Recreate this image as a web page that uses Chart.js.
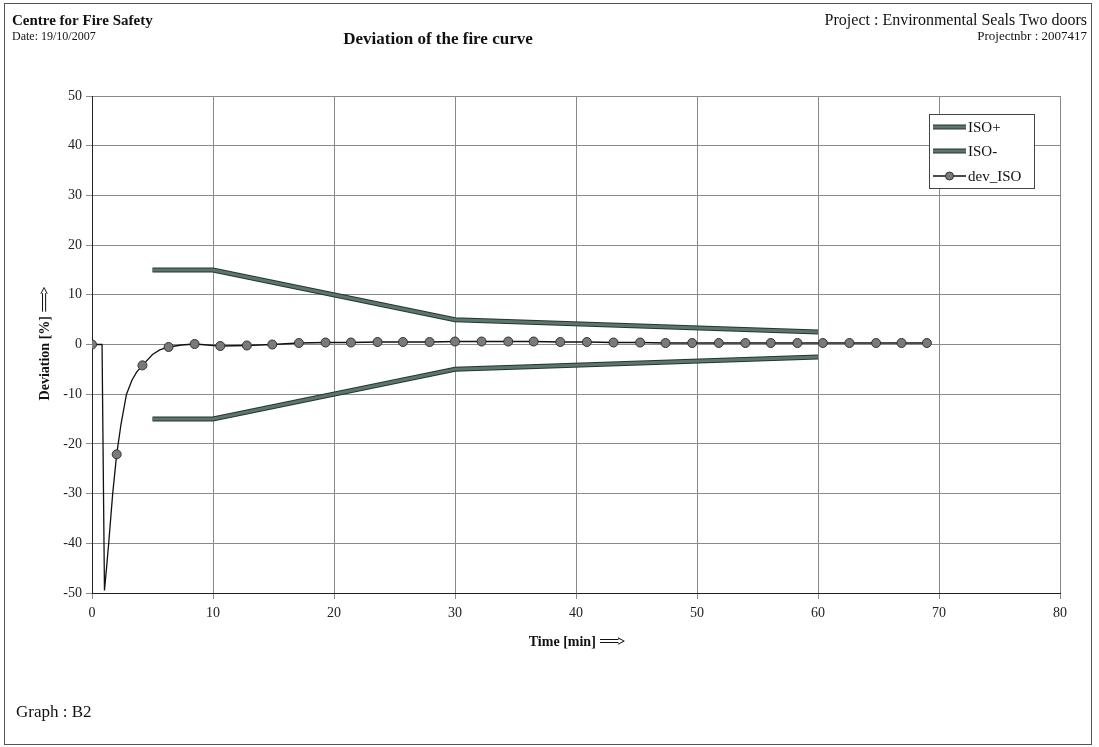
<!DOCTYPE html>
<html>
<head>
<meta charset="utf-8">
<script src="https://cdn.jsdelivr.net/npm/chart.js@4.4.1/dist/chart.umd.min.js"></script>
<style>
  html, body { margin: 0; padding: 0; background: #ffffff; }
  #wrap { width: 1099px; height: 747px; position: relative; }
</style>
</head>
<body>
<div id="wrap"><canvas id="c" width="1099" height="747"></canvas></div>
<script>
// ---- Data ----
const isoTime = [5, 10, 30, 60];
const isoPlus = [15, 15, 5, 2.5];
const isoMinus = [-15, -15, -5, -2.5];

// dev_ISO: points carrying markers
const devMarkerTime = [0, 2.04, 4.17, 6.33, 8.48, 10.6, 12.8, 14.9, 17.1, 19.3, 21.4, 23.6, 25.7, 27.9, 30.0, 32.2, 34.4, 36.5, 38.7, 40.9, 43.1, 45.3, 47.4, 49.6, 51.8, 54.0, 56.1, 58.3, 60.4, 62.6, 64.8, 66.9, 69.0];
const devMarkerValue = [0, -22.1, -4.2, -0.5, 0.1, -0.3, -0.2, 0.0, 0.3, 0.4, 0.4, 0.5, 0.5, 0.5, 0.6, 0.6, 0.6, 0.6, 0.5, 0.5, 0.4, 0.4, 0.3, 0.3, 0.3, 0.3, 0.3, 0.3, 0.3, 0.3, 0.3, 0.3, 0.3];
// dev_ISO: intermediate points of the line (no markers)
const devLineTime = [0.83, 1.03, 1.2, 1.38, 1.71, 2.4, 2.85, 3.3, 3.7, 5.0, 5.6, 7.4];
const devLineValue = [0, -49.5, -45, -40, -30, -16, -10, -7.2, -5.5, -2.0, -1.1, -0.1];

const xTicks = [0, 10, 20, 30, 40, 50, 60, 70, 80];
const yTicks = [-50, -40, -30, -20, -10, 0, 10, 20, 30, 40, 50];

const headerLeft1 = 'Centre for Fire Safety';
const headerLeft2 = 'Date: 19/10/2007';
const chartTitle = 'Deviation of the fire curve';
const headerRight1 = 'Project : Environmental Seals Two doors';
const headerRight2 = 'Projectnbr : 2007417';
const xTitle = 'Time [min]';
const yTitle = 'Deviation [%]';
const titleArrow = '===>';
const footer = 'Graph : B2';

// ---- build datasets ----
const devPoints = devMarkerTime.map((t, i) => ({ x: t, y: devMarkerValue[i], m: true }))
  .concat(devLineTime.map((t, i) => ({ x: t, y: devLineValue[i], m: false })))
  .sort((a, b) => a.x - b.x);

const SERIF = '"Liberation Serif", "Times New Roman", serif';
const isoColor = '#5a776a';
const isoEdge = '#26352e';

function drawTitleWithArrow(ctx, text, cx, cy) {
  ctx.font = 'bold 14px ' + SERIF;
  ctx.letterSpacing = '0px';
  const w1 = ctx.measureText(text + ' ').width;
  ctx.letterSpacing = '-2px';
  const w2 = ctx.measureText(titleArrow).width;
  const start = cx - (w1 + w2) / 2;
  ctx.textAlign = 'left';
  ctx.textBaseline = 'middle';
  ctx.letterSpacing = '0px';
  ctx.fillText(text + ' ', start, cy);
  ctx.letterSpacing = '-2px';
  ctx.fillText(titleArrow, start + w1, cy);
  ctx.letterSpacing = '0px';
}

const isoOutline = {
  id: 'isoOutline',
  beforeDatasetDraw(chart, args) {
    const ds = chart.data.datasets[args.index];
    if (!ds.isoBand) return;
    const pts = args.meta.data;
    const ctx = chart.ctx;
    ctx.save();
    ctx.strokeStyle = isoEdge;
    ctx.lineWidth = ds.borderWidth + 2;
    ctx.lineJoin = 'miter';
    ctx.beginPath();
    pts.forEach((p, i) => { if (i === 0) ctx.moveTo(p.x, p.y); else ctx.lineTo(p.x, p.y); });
    ctx.stroke();
    ctx.restore();
  }
};

const decorPlugin = {
  id: 'decor',
  beforeDraw(chart) {
    const ctx = chart.ctx;
    ctx.save();
    ctx.fillStyle = '#ffffff';
    ctx.fillRect(0, 0, chart.width, chart.height);
    ctx.restore();
  },
  afterDraw(chart) {
    const ctx = chart.ctx;
    const ca = chart.chartArea;
    ctx.save();
    // outer frame
    ctx.strokeStyle = '#555';
    ctx.lineWidth = 1;
    ctx.strokeRect(4.5, 3.5, 1087, 741);

    ctx.fillStyle = '#111';
    ctx.textBaseline = 'alphabetic';
    ctx.textAlign = 'left';
    ctx.font = 'bold 15px ' + SERIF;
    ctx.fillText(headerLeft1, 12, 25);
    ctx.font = '12px ' + SERIF;
    ctx.fillText(headerLeft2, 12, 40);
    ctx.textAlign = 'center';
    ctx.font = 'bold 17px ' + SERIF;
    ctx.fillText(chartTitle, 438, 44);
    ctx.textAlign = 'right';
    ctx.font = '16px ' + SERIF;
    ctx.fillText(headerRight1, 1087, 25);
    ctx.font = '13px ' + SERIF;
    ctx.fillText(headerRight2, 1087, 40);

    // axis titles
    drawTitleWithArrow(ctx, xTitle, (ca.left + ca.right) / 2, 642);
    ctx.save();
    ctx.translate(45, (ca.top + ca.bottom) / 2);
    ctx.rotate(-Math.PI / 2);
    drawTitleWithArrow(ctx, yTitle, 0, 0);
    ctx.restore();

    // footer
    ctx.textAlign = 'left';
    ctx.textBaseline = 'middle';
    ctx.font = '17px ' + SERIF;
    ctx.fillText(footer, 16, 713);

    // legend
    const lx = 929, ly = 114, lw = 105, lh = 74;
    ctx.fillStyle = '#fff';
    ctx.fillRect(lx, ly, lw, lh);
    ctx.strokeStyle = '#444';
    ctx.lineWidth = 1;
    ctx.strokeRect(lx + 0.5, ly + 0.5, lw, lh);
    const rows = [127, 151, 176];
    chart.data.datasets.forEach((ds, i) => {
      const y = rows[i];
      ctx.save();
      if (ds.isoBand) {
        ctx.strokeStyle = isoEdge;
        ctx.lineWidth = ds.borderWidth + 2;
        ctx.beginPath();
        ctx.moveTo(933, y);
        ctx.lineTo(966, y);
        ctx.stroke();
      }
      ctx.strokeStyle = ds.borderColor;
      ctx.lineWidth = ds.borderWidth;
      ctx.lineCap = 'butt';
      ctx.beginPath();
      ctx.moveTo(933, y);
      ctx.lineTo(966, y);
      ctx.stroke();
      if (ds.label === 'dev_ISO') {
        ctx.beginPath();
        ctx.arc(949.5, y, 4, 0, Math.PI * 2);
        ctx.fillStyle = ds.pointBackgroundColor;
        ctx.fill();
        ctx.strokeStyle = ds.pointBorderColor;
        ctx.lineWidth = 1;
        ctx.stroke();
      }
      ctx.restore();
      ctx.fillStyle = '#111';
      ctx.font = '15px ' + SERIF;
      ctx.textAlign = 'left';
      ctx.textBaseline = 'middle';
      ctx.fillText(ds.label, 968, y + 1);
    });
    ctx.restore();
  }
};

new Chart(document.getElementById('c'), {
  type: 'scatter',
  data: {
    datasets: [
      {
        label: 'ISO+',
        isoBand: true,
        data: isoTime.map((t, i) => ({ x: t, y: isoPlus[i] })),
        showLine: true,
        borderColor: isoColor,
        backgroundColor: isoColor,
        borderWidth: 3,
        pointRadius: 0,
        order: 2
      },
      {
        label: 'ISO-',
        isoBand: true,
        data: isoTime.map((t, i) => ({ x: t, y: isoMinus[i] })),
        showLine: true,
        borderColor: isoColor,
        backgroundColor: isoColor,
        borderWidth: 3,
        pointRadius: 0,
        order: 2
      },
      {
        label: 'dev_ISO',
        data: devPoints,
        showLine: true,
        borderColor: '#111',
        borderWidth: 1.3,
        backgroundColor: '#7a7a7a',
        pointBackgroundColor: '#7a7a7a',
        pointBorderColor: '#333',
        pointBorderWidth: 1,
        pointRadius: (c) => (c.raw && c.raw.m ? 4.5 : 0),
        tension: 0,
        order: 1
      }
    ]
  },
  options: {
    responsive: false,
    animation: false,
    events: [],
    layout: { padding: { left: 0, top: 96, right: 39, bottom: 0 } },
    plugins: {
      legend: { display: false },
      tooltip: { enabled: false },
      title: { display: false }
    },
    scales: {
      x: {
        type: 'linear',
        min: 0,
        max: 80,
        afterFit: (s) => { s.height = 747 - 593; },
        afterBuildTicks: (s) => { s.ticks = xTicks.map(v => ({ value: v })); },
        ticks: {
          font: { family: SERIF, size: 14 },
          color: '#222',
          padding: 6,
          maxRotation: 0
        },
        grid: { color: '#8a8a8a', lineWidth: 1, tickLength: 6, drawTicks: true },
        border: { color: '#222', width: 1 }
      },
      y: {
        type: 'linear',
        min: -50,
        max: 50,
        afterFit: (s) => { s.width = 92; },
        afterBuildTicks: (s) => { s.ticks = yTicks.map(v => ({ value: v })); },
        ticks: {
          font: { family: SERIF, size: 14 },
          color: '#222',
          padding: 4
        },
        grid: { color: '#8a8a8a', lineWidth: 1, tickLength: 6, drawTicks: true },
        border: { color: '#222', width: 1 }
      }
    }
  },
  plugins: [isoOutline, decorPlugin]
});
</script>
</body>
</html>
